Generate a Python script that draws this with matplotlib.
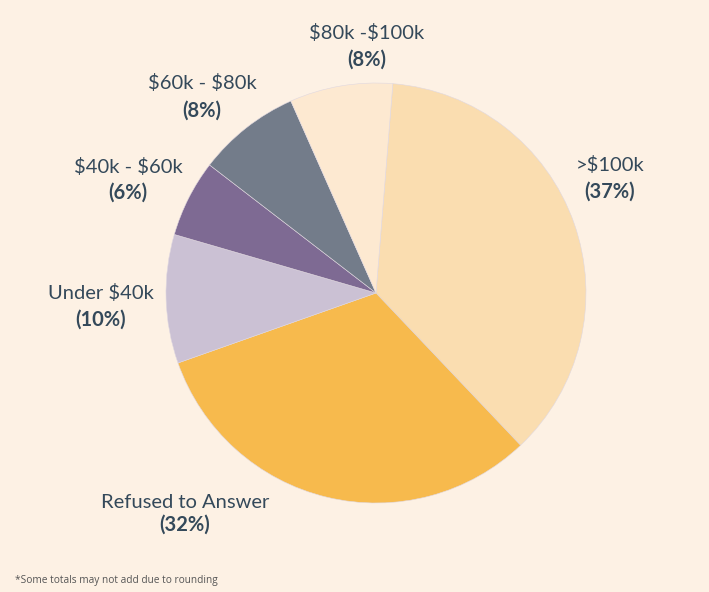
import matplotlib
matplotlib.use("Agg")
import matplotlib.pyplot as plt

plt.rcParams["text.parse_math"] = False

categories = [">$100k", "Refused to Answer", "Under $40k", "$40k - $60k", "$60k - $80k", "$80k -$100k"]
values = [37, 32, 10, 6, 8, 8]
colors = ["#FADDB0", "#F7BA4D", "#CBC1D4", "#7E6A93", "#737C8A", "#FDE9D1"]

BG = "#FDF1E4"
TXT = "#34495A"

W, H = 709, 592
fig = plt.figure(figsize=(W / 100, H / 100), dpi=100, facecolor=BG)
cx, cy, R = 376, 293, 210
ax = fig.add_axes([(cx - R) / W, (H - cy - R) / H, 2 * R / W, 2 * R / H])
ax.set_facecolor(BG)
ax.pie(values, colors=colors, startangle=85.4, counterclock=False, radius=1,
       wedgeprops=dict(linewidth=0.4, edgecolor="#e0d8e0"))
ax.set_xlim(-1, 1)
ax.set_ylim(-1, 1)
ax.axis("off")

# label pixel positions: (x center, y of first line center, y of second line center)
label_pos = {
    ">$100k": (610, 165, 192),
    "Refused to Answer": (185, 503, 525),
    "Under $40k": (101, 293, 320),
    "$40k - $60k": (128, 167, 193),
    "$60k - $80k": (202, 83, 111),
    "$80k -$100k": (367, 33, 60),
}
font = ["Lato", "DejaVu Sans"]
for cat, v in zip(categories, values):
    px, py1, py2 = label_pos[cat]
    fig.text(px / W, 1 - py1 / H, cat, ha="center", va="center", fontsize=14.5,
             color=TXT, family=font)
    fig.text(px / W, 1 - py2 / H, f"({v}%)", ha="center", va="center", fontsize=14.5,
             color=TXT, family=font, fontweight="bold")

fig.text(15 / W, 1 - 581 / H, "*Some totals may not add due to rounding",
         ha="left", va="center", fontsize=7.3, color="#555555", family=["Open Sans", "DejaVu Sans"])

fig.savefig("out.png", dpi=100, facecolor=BG)
